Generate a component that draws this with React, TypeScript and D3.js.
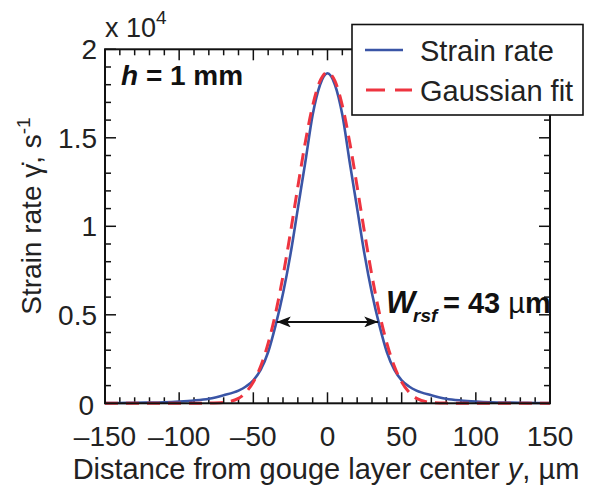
import React, { useEffect, useRef } from "react";
import * as d3 from "d3";

// distance from gouge layer center, um
const yPositions = [
  -150, -140, -130, -120, -110, -100, -90, -80, -70, -60, -55, -50, -45, -40, -35, -30, -25, -20, -15, -10, -5,
  0, 5, 10, 15, 20, 25, 30, 35, 40, 45, 50, 55, 60, 70, 80, 90, 100, 110, 120, 130, 140, 150,
];

// strain rate, x 10^4 s^-1
const strainRate = [
  0.001, 0.002, 0.003, 0.004, 0.006, 0.01, 0.016, 0.026, 0.046, 0.072, 0.095, 0.13, 0.19, 0.29, 0.44, 0.62, 0.84,
  1.1, 1.36, 1.63, 1.8, 1.865, 1.8, 1.63, 1.36, 1.1, 0.84, 0.62, 0.44, 0.29, 0.19, 0.13, 0.095, 0.072, 0.046, 0.026,
  0.016, 0.01, 0.006, 0.004, 0.003, 0.002, 0.001,
];

// gaussian fit, x 10^4 s^-1
const gaussianFit = [
  0, 0, 0, 0, 0, 0, 0, 0.001, 0.005, 0.028, 0.062, 0.12, 0.21, 0.34, 0.509, 0.719, 0.963, 1.223, 1.473,
  1.682, 1.821, 1.87, 1.821, 1.682, 1.473, 1.223, 0.963, 0.719, 0.509, 0.34, 0.21, 0.12, 0.062, 0.028, 0.005,
  0.001, 0, 0, 0, 0, 0, 0, 0,
];

const xTicks = [-150, -100, -50, 0, 50, 100, 150];
const xTickLabels = ["\u2013150", "\u2013100", "\u201350", "0", "50", "100", "150"];
const yTicks = [0, 0.5, 1, 1.5, 2];
const yTickLabels = ["0", "0.5", "1", "1.5", "2"];

const widthHalfMax = 34.2; // arrow half-span, um
const arrowLevel = 0.46;

export default function App() {
  const ref = useRef<SVGSVGElement>(null);

  useEffect(() => {
    document.body.style.margin = "0";
    const svg = d3.select(ref.current);
    svg.selectAll("*").remove();

    const width = 591,
      height = 488,
      margin = { top: 49.3, right: 41, bottom: 84.7, left: 105 };
    const font = "'Liberation Sans', Arial, Helvetica, sans-serif";

    const x = d3.scaleLinear().domain([-150, 150]).range([margin.left, width - margin.right]);
    const y = d3.scaleLinear().domain([0, 2]).range([height - margin.bottom, margin.top]);

    const minorX = d3.range(-150, 151, 10);
    const minorY = d3.range(0, 2.01, 0.1);

    // Ticks (inward, on all four sides)
    const ticks = svg.append("g").attr("stroke", "#111").attr("stroke-width", 1.5);
    minorX.forEach((v) => {
      const len = v % 50 === 0 ? 11 : 6;
      ticks.append("line").attr("x1", x(v)).attr("x2", x(v)).attr("y1", y(0)).attr("y2", y(0) - len);
      ticks.append("line").attr("x1", x(v)).attr("x2", x(v)).attr("y1", y(2)).attr("y2", y(2) + len);
    });
    minorY.forEach((v) => {
      const major = Math.abs(v * 2 - Math.round(v * 2)) < 1e-6;
      const len = major ? 11 : 6;
      ticks.append("line").attr("x1", x(-150)).attr("x2", x(-150) + len).attr("y1", y(v)).attr("y2", y(v));
      ticks.append("line").attr("x1", x(150)).attr("x2", x(150) - len).attr("y1", y(v)).attr("y2", y(v));
    });

    // Curves
    const line = d3
      .line<number>()
      .x((_, i) => x(yPositions[i]))
      .y((d) => y(d))
      .curve(d3.curveMonotoneX);

    svg
      .append("path")
      .datum(strainRate)
      .attr("fill", "none")
      .attr("stroke", "#3a55a6")
      .attr("stroke-width", 2.6)
      .attr("d", line);

    svg
      .append("path")
      .datum(gaussianFit)
      .attr("fill", "none")
      .attr("stroke", "#ee3440")
      .attr("stroke-width", 3)
      .attr("stroke-dasharray", "13,8")
      .attr("d", line);

    // Axes box
    svg
      .append("rect")
      .attr("x", x(-150))
      .attr("y", y(2))
      .attr("width", x(150) - x(-150))
      .attr("height", y(0) - y(2))
      .attr("fill", "none")
      .attr("stroke", "#111")
      .attr("stroke-width", 2);

    // Tick labels
    svg
      .append("g")
      .selectAll("text")
      .data(xTicks)
      .join("text")
      .attr("x", (d) => x(d))
      .attr("y", 446)
      .attr("text-anchor", "middle")
      .style("font-family", font)
      .style("font-size", "28px")
      .style("fill", "#222")
      .text((_, i) => xTickLabels[i]);

    svg
      .append("g")
      .selectAll("text")
      .data(yTicks)
      .join("text")
      .attr("x", (d) => (d === 0 ? 94 : 97))
      .attr("y", (d) => y(d) + (d === 0 ? 12 : 10))
      .attr("text-anchor", "end")
      .style("font-family", font)
      .style("font-size", "28px")
      .style("fill", "#222")
      .text((_, i) => yTickLabels[i]);

    // Exponent
    const exp = svg
      .append("text")
      .attr("x", 105)
      .attr("y", 37)
      .style("font-family", font)
      .style("font-size", "27px")
      .style("fill", "#222");
    exp.append("tspan").text("x 10");
    exp.append("tspan").attr("dy", -13).style("font-size", "19px").text("4");

    // Axis labels
    svg
      .append("text")
      .attr("x", 326)
      .attr("y", 479)
      .attr("text-anchor", "middle")
      .style("font-family", font)
      .style("font-size", "29px")
      .style("fill", "#222")
      .call((t) => {
        t.append("tspan").text("Distance from gouge layer center ");
        t.append("tspan").style("font-style", "italic").text("y");
        t.append("tspan").text(", \u00b5m");
      });

    svg
      .append("text")
      .attr("transform", "translate(41,216) rotate(-90)")
      .attr("text-anchor", "middle")
      .style("font-family", font)
      .style("font-size", "28px")
      .style("fill", "#222")
      .call((t) => {
        t.append("tspan").text("Strain rate ");
        t.append("tspan").text("\u03b3\u0307");
        t.append("tspan").text(", s");
        t.append("tspan").attr("dy", -11).style("font-size", "19px").text("-1");
      });

    // h = 1 mm
    svg
      .append("text")
      .attr("x", 121)
      .attr("y", 85)
      .style("font-family", font)
      .style("font-size", "28px")
      .style("font-weight", "bold")
      .style("fill", "#111")
      .call((t) => {
        t.append("tspan").style("font-style", "italic").text("h");
        t.append("tspan").text(" = 1 mm");
      });

    // Width arrow
    const defs = svg.append("defs");
    defs
      .append("marker")
      .attr("id", "arrowHead")
      .attr("viewBox", "0 0 14 11")
      .attr("refX", 14)
      .attr("refY", 5.5)
      .attr("markerWidth", 14)
      .attr("markerHeight", 11)
      .attr("markerUnits", "userSpaceOnUse")
      .attr("orient", "auto-start-reverse")
      .append("path")
      .attr("d", "M0,0 L14,5.5 L0,11 L3.5,5.5 Z")
      .attr("fill", "#111");

    svg
      .append("line")
      .attr("x1", x(-widthHalfMax))
      .attr("x2", x(widthHalfMax))
      .attr("y1", y(arrowLevel))
      .attr("y2", y(arrowLevel))
      .attr("stroke", "#111")
      .attr("stroke-width", 2)
      .attr("marker-start", "url(#arrowHead)")
      .attr("marker-end", "url(#arrowHead)");

    // W_rsf label
    const wLabel = svg
      .append("g")
      .style("font-family", font)
      .style("font-weight", "bold")
      .style("fill", "#111");
    wLabel
      .append("text")
      .attr("x", 386)
      .attr("y", 313)
      .style("font-size", "31px")
      .style("font-style", "italic")
      .text("W");
    wLabel
      .append("text")
      .attr("x", 413)
      .attr("y", 322)
      .style("font-size", "19px")
      .style("font-style", "italic")
      .text("rsf");
    wLabel
      .append("text")
      .attr("x", 443)
      .attr("y", 313)
      .style("font-size", "29px")
      .call((t) => {
        t.append("tspan").text("= 43 ");
        t.append("tspan").style("font-weight", "normal").text("\u00b5");
        t.append("tspan").text("m");
      });

    // Legend
    const legend = svg.append("g");
    legend
      .append("rect")
      .attr("x", 352)
      .attr("y", 24.5)
      .attr("width", 231)
      .attr("height", 90.5)
      .attr("fill", "white")
      .attr("stroke", "#111")
      .attr("stroke-width", 1.6);
    legend
      .append("line")
      .attr("x1", 365)
      .attr("x2", 403)
      .attr("y1", 50)
      .attr("y2", 50)
      .attr("stroke", "#3a55a6")
      .attr("stroke-width", 2.6);
    legend
      .append("line")
      .attr("x1", 366)
      .attr("x2", 412)
      .attr("y1", 90)
      .attr("y2", 90)
      .attr("stroke", "#ee3440")
      .attr("stroke-width", 3)
      .attr("stroke-dasharray", "19,10");
    legend
      .append("text")
      .attr("x", 420)
      .attr("y", 61)
      .style("font-family", font)
      .style("font-size", "29px")
      .style("fill", "#222")
      .text("Strain rate");
    legend
      .append("text")
      .attr("x", 420)
      .attr("y", 101)
      .style("font-family", font)
      .style("font-size", "29px")
      .style("fill", "#222")
      .text("Gaussian fit");
  }, []);

  return <svg ref={ref} width={591} height={488} style={{ display: "block" }} />;
}
